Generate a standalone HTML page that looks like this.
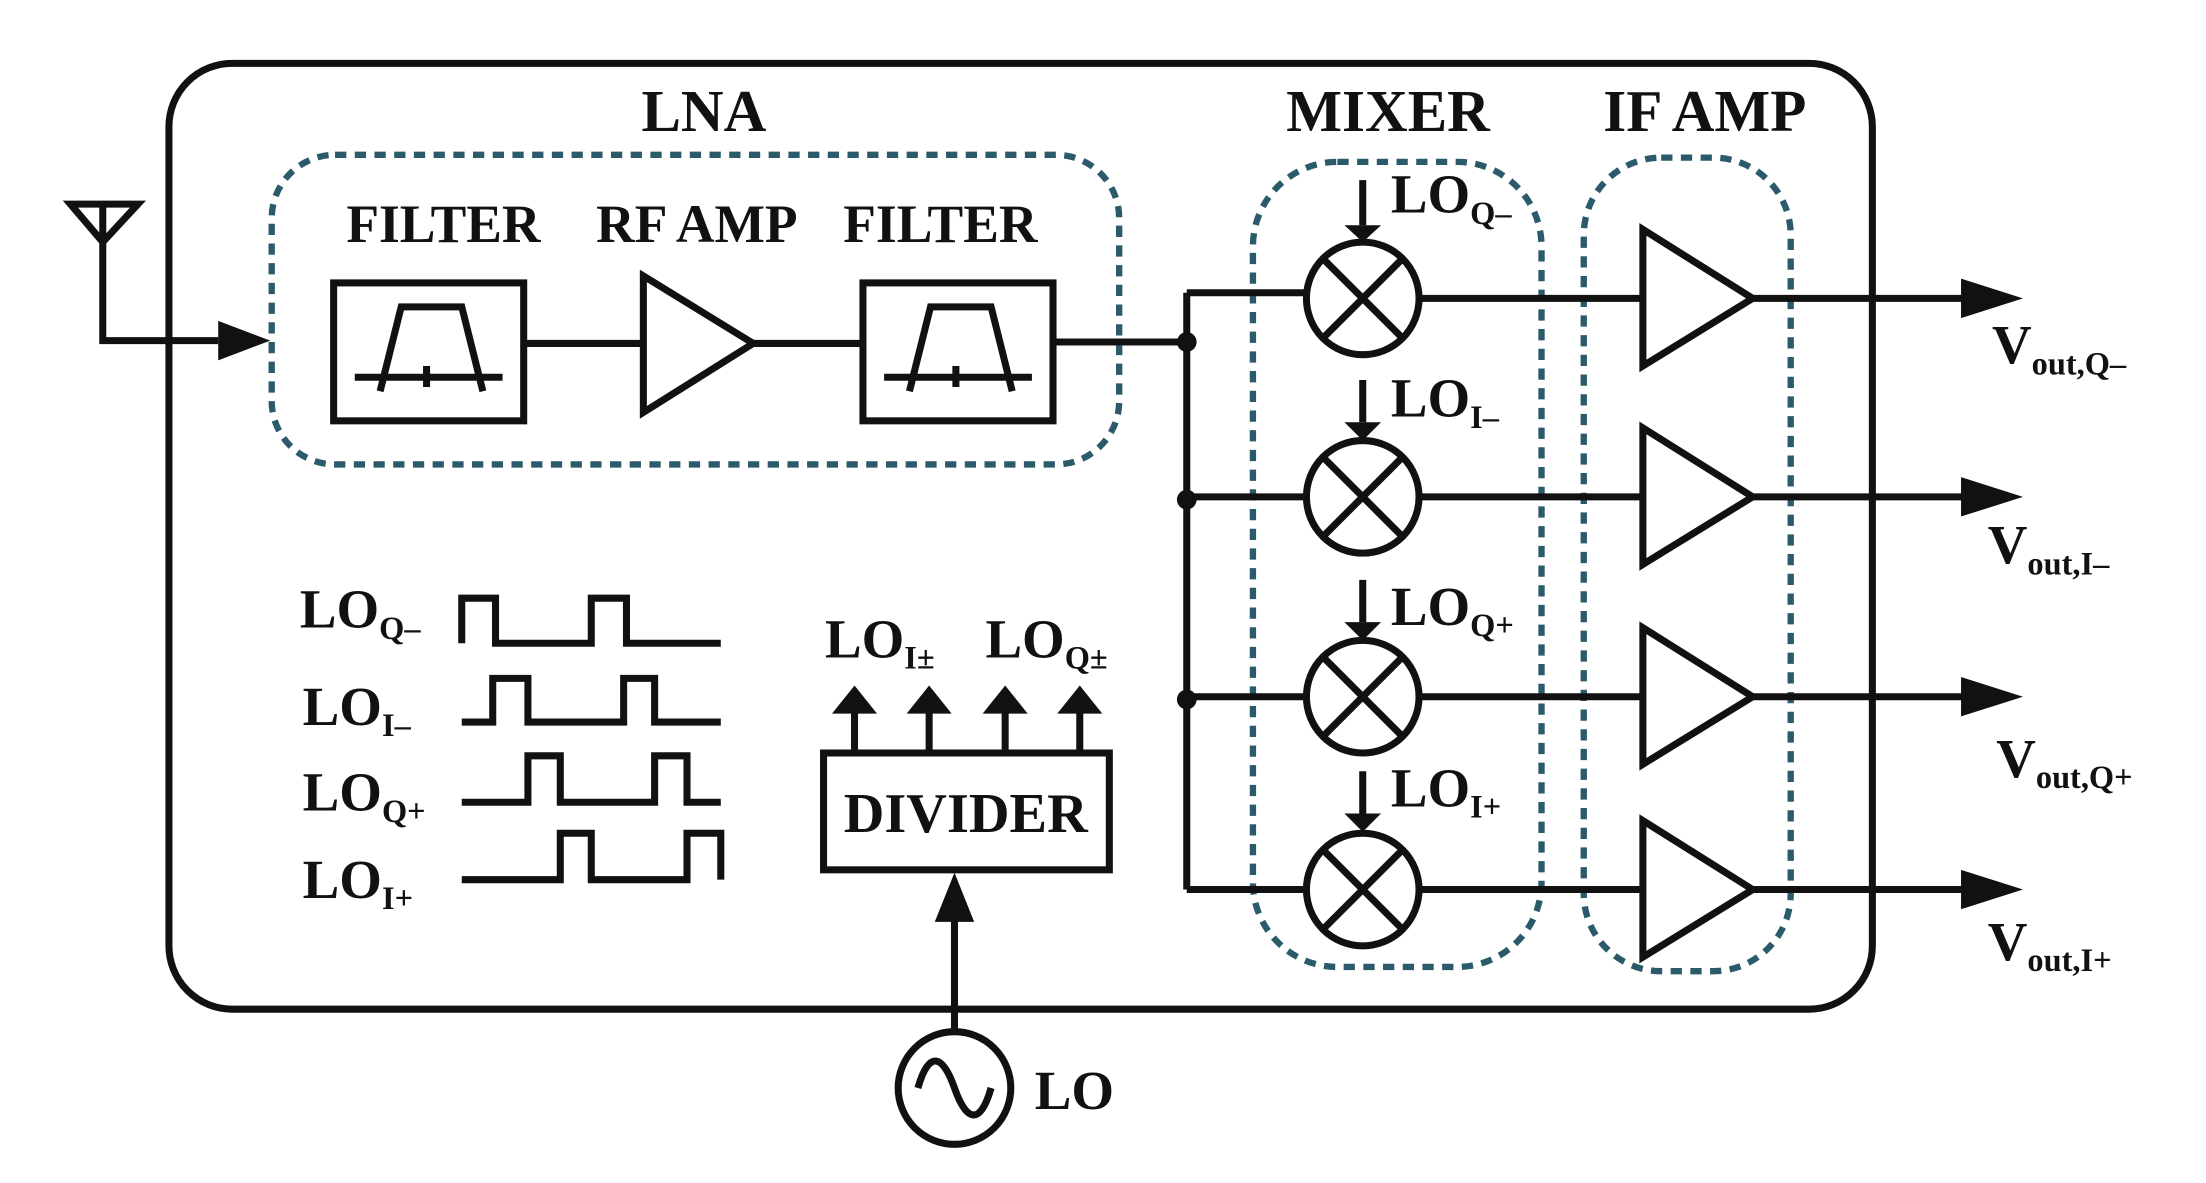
<!DOCTYPE html>
<html><head><style>
html,body{margin:0;padding:0;background:#fff;}
svg{display:block;}
text{font-family:"Liberation Serif",serif;font-weight:bold;fill:#111;}
</style></head><body>
<svg width="2206" height="1183" viewBox="0 0 1567 840.5" preserveAspectRatio="none" xmlns="http://www.w3.org/2000/svg">
<g fill="none" stroke="#111" stroke-width="5">
<rect x="120" y="45" width="1210" height="672" rx="45"/>
</g>
<g fill="none" stroke="#2b5a6b" stroke-width="4.5" stroke-dasharray="8 6">
<rect x="193" y="110" width="602" height="220" rx="45"/>
<rect x="890" y="115" width="205" height="572" rx="60"/>
<rect x="1125" y="112" width="147" height="578" rx="55"/>
</g>
<g font-size="42" text-anchor="middle">
<text x="500" y="93">LNA</text>
<text x="986" y="93">MIXER</text>
<text x="1211" y="93">IF AMP</text>
</g>
<g font-size="38" text-anchor="middle">
<text x="315" y="172">FILTER</text>
<text x="495" y="172">RF AMP</text>
<text x="668" y="172">FILTER</text>
</g>
<g fill="none" stroke="#111" stroke-width="5" stroke-linejoin="miter">
<path d="M50 145 H98 L73 172 Z M73 145 V242 H155"/>
<rect x="237" y="201" width="135" height="98"/>
<rect x="613" y="201" width="135" height="98"/>
<path d="M270 278 L285 218 H328 L343 278 M252 268 H357 M303 260 V275"/>
<path d="M646 278 L661 218 H704 L719 278 M628 268 H733 M679 260 V275"/>
<path d="M457 196 V293 L535 244 Z"/>
<path d="M372 244 H457 M535 244 H613 M748 243 H843"/>
<path d="M843 208 V632 M843 208 H928 M843 353 H928 M843 495 H928 M843 632 H928"/>
<g>
<circle cx="968" cy="212" r="40"/><path d="M940 184 L996 240 M996 184 L940 240"/>
<circle cx="968" cy="353" r="40"/><path d="M940 325 L996 381 M996 325 L940 381"/>
<circle cx="968" cy="495" r="40"/><path d="M940 467 L996 523 M996 467 L940 523"/>
<circle cx="968" cy="632" r="40"/><path d="M940 604 L996 660 M996 604 L940 660"/>
</g>
<path d="M1008 212 H1167 M1008 353 H1167 M1008 495 H1167 M1008 632 H1167"/>
<path d="M1167 163 V260 L1245 212 Z M1167 304 V401 L1245 353 Z M1167 446 V543 L1245 495 Z M1167 583 V680 L1245 632 Z"/>
<path d="M1245 212 H1400 M1245 353 H1400 M1245 495 H1400 M1245 632 H1400"/>
<path d="M968 128 V160 M968 270 V300 M968 412 V442 M968 548 V578"/>
<path d="M328 457 V425 H352 V457 H420 V425 H445 V457 H512"/>
<path d="M328 513 H350 V482 H375 V513 H443 V482 H465 V513 H512"/>
<path d="M328 570 H375 V537 H398 V570 H465 V537 H488 V570 H512"/>
<path d="M328 625 H398 V592 H420 V625 H488 V592 H512 V625"/>
<rect x="585" y="535" width="203" height="83"/>
<path d="M607 535 V505 M660 535 V505 M714 535 V505 M767 535 V505"/>
<path d="M678 733 V650"/>
<circle cx="678" cy="773" r="40"/>
<path d="M652 773 C660 745 670 750 678 773 C686 796 696 801 704 773"/>
</g>
<g fill="#111">
<path d="M155 228 L192 242 L155 256 Z"/>
<circle cx="843" cy="243" r="7"/><circle cx="843" cy="355" r="7"/><circle cx="843" cy="497" r="7"/>
<path d="M955 160 L968 172 L981 160 Z M955 300 L968 313 L981 300 Z M955 442 L968 455 L981 442 Z M955 578 L968 591 L981 578 Z"/>
<path d="M1393 198 L1437 212 L1393 226 Z M1393 339 L1437 353 L1393 367 Z M1393 481 L1437 495 L1393 509 Z M1393 618 L1437 632 L1393 646 Z"/>
<path d="M591 507 L607 487 L623 507 Z M644 507 L660 487 L676 507 Z M698 507 L714 487 L730 507 Z M751 507 L767 487 L783 507 Z"/>
<path d="M664 655 L678 620 L692 655 Z"/>
</g>
<g font-size="39">
<text x="988" y="151">LO<tspan font-size="23" dy="8">Q–</tspan></text>
<text x="988" y="296">LO<tspan font-size="23" dy="8">I–</tspan></text>
<text x="988" y="444">LO<tspan font-size="23" dy="8">Q+</tspan></text>
<text x="988" y="573">LO<tspan font-size="23" dy="8">I+</tspan></text>
<text x="213" y="446">LO<tspan font-size="23" dy="8">Q–</tspan></text>
<text x="215" y="515">LO<tspan font-size="23" dy="8">I–</tspan></text>
<text x="215" y="576">LO<tspan font-size="23" dy="8">Q+</tspan></text>
<text x="215" y="638">LO<tspan font-size="23" dy="8">I+</tspan></text>
<text x="586" y="467">LO<tspan font-size="23" dy="8">I±</tspan></text>
<text x="700" y="467">LO<tspan font-size="23" dy="8">Q±</tspan></text>
<text x="735" y="788">LO</text>
<text x="1415" y="258">V<tspan font-size="23" dy="8">out,Q–</tspan></text>
<text x="1412" y="400">V<tspan font-size="23" dy="8">out,I–</tspan></text>
<text x="1418" y="552">V<tspan font-size="23" dy="8">out,Q+</tspan></text>
<text x="1412" y="682">V<tspan font-size="23" dy="8">out,I+</tspan></text>
</g>
<text x="686" y="591" font-size="40" text-anchor="middle">DIVIDER</text>
</svg>
</body></html>
